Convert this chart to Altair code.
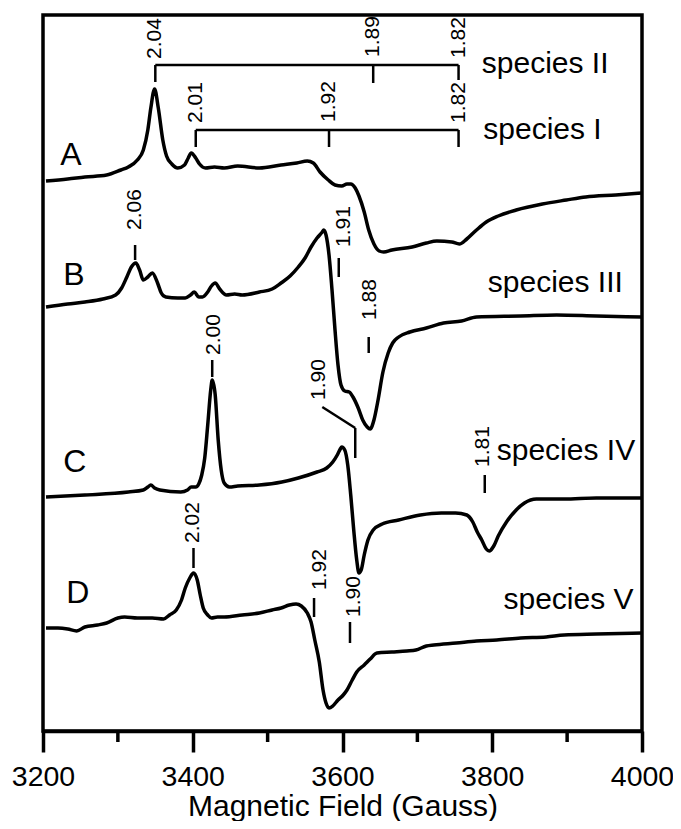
import altair as alt
import pandas as pd

FONT = "Liberation Sans"

# ---- spectra (field in Gauss, signal in arbitrary units relative to each trace baseline)
FIELD_A = [3204,3233,3256,3285,3304,3314,3326,3334,3340,3344,3349,3354,3360,3365,3372,3380,3389,3394,3398,3404,
           3409,3417,3429,3442,3460,3489,3518,3539,3553,3561,3570,3581,3590,3599,3606,3611,3617,3622,3629,3635,
           3642,3649,3655,3666,3693,3712,3726,3746,3756,3766,3779,3792,3808,3832,3867,3899,3925,3965,4000]
SIGNAL_A = [0,2,4,6,11,14,21,31,51,73,92,73,41,25,17,13,16,23,28,23,
            17,13,14,13,15,13,16,18,20,18,9,1,-4,-5,-3,-3,-7,-15,-31,-49,
            -63,-70,-71,-69,-66,-62,-60,-61,-63,-58,-49,-41,-35,-29,-23,-19,-16,-14,-12]

FIELD_B = [3204,3233,3256,3280,3297,3305,3312,3318,3324,3329,3334,3340,3346,3353,3358,3364,3380,3390,3397,3402,
           3408,3413,3420,3425,3430,3436,3445,3456,3466,3489,3506,3518,3530,3541,3550,3558,3566,3573,3575,3578,
           3582,3586,3590,3594,3598,3603,3609,3614,3621,3627,3633,3637,3642,3647,3654,3661,3667,3675,3690,3712,
           3735,3759,3779,3838,3886,3939,4000]
SIGNAL_B = [0,3,5,8,12,19,30,40,44,37,27,30,34,24,14,10,9,9,12,15,
            10,10,15,21,24,18,12,13,12,15,18,24,31,40,49,60,69,75,77,72,
            52,17,-23,-58,-78,-84,-85,-90,-101,-113,-120,-122,-113,-95,-65,-46,-36,-30,-25,-21,
            -16,-14,-10,-9,-8,-9,-10]

FIELD_C = [3204,3256,3314,3334,3340,3344,3349,3356,3384,3393,3398,3404,3408,3412,3416,3420,3424,3426,3430,3434,
           3438,3442,3449,3460,3489,3519,3541,3566,3579,3587,3593,3597,3599,3603,3607,3611,3615,3619,3622,3625,
           3629,3634,3641,3653,3675,3704,3732,3751,3766,3774,3780,3786,3792,3796,3802,3808,3819,3832,3843,3859,
           3896,3939,4000]
SIGNAL_C = [0,2,5,7,10,12,9,7,5,7,10,10,13,22,39,72,107,117,102,57,
            27,14,10,11,12,15,19,25,29,35,42,48,50,47,32,2,-33,-63,-76,-73,
            -58,-43,-33,-27,-23,-18,-16,-16,-18,-25,-35,-43,-52,-54,-49,-39,-25,-13,-6,-2,
            -2,-1,-1]

FIELD_D = [3204,3220,3233,3245,3256,3273,3285,3300,3309,3326,3346,3361,3369,3378,3385,3390,3396,3401,3406,3410,
           3414,3420,3425,3433,3442,3466,3489,3506,3518,3529,3538,3545,3553,3558,3563,3569,3574,3578,3582,3587,
           3594,3601,3606,3613,3619,3629,3637,3646,3666,3686,3698,3712,3722,3752,3779,3806,3838,3872,3896,3939,
           4000]
SIGNAL_D = [0,0,-1,-3,1,3,5,10,11,10,10,9,13,18,28,40,50,55,48,33,
            20,13,10,11,11,13,15,18,20,23,24,22,15,6,-12,-34,-62,-75,-80,-78,
            -72,-67,-62,-52,-44,-37,-31,-25,-24,-23,-22,-18,-17,-15,-13,-12,-10,-9,-7,-6,
            -5]

TRACE_NAMES = ["A", "B", "C", "D"]
TRACE_OFFSETS = [550, 424, 234, 103]

# ---- trace letters
LETTER_FIELD = [3223, 3227, 3227, 3231]
LETTER_LEVEL = [566, 446, 259, 128]

# ---- species labels
SPECIES_TEXT = ["species II", "species I", "species III", "species IV", "species V"]
SPECIES_FIELD = [3786, 3788, 3794, 3806, 3815]
SPECIES_LEVEL = [658, 592, 439, 271, 122]

# ---- g-value labels (rotated)
G_TEXT = ["2.04", "1.89", "1.82", "2.01", "1.92", "1.82", "2.06", "1.91", "1.88",
          "2.00", "1.90", "1.81", "2.02", "1.92", "1.90"]
G_FIELD = [3350, 3641, 3755, 3404, 3582, 3755, 3323, 3602, 3637,
           3429, 3569, 3788, 3401, 3570, 3615]
G_LEVEL = [672, 674, 673, 608, 609, 608, 501, 484, 411,
           376, 331, 264, 188, 141, 114]

# ---- marker segments (field start, field end, level start, level end)
SEG_X1 = [3350, 3350, 3641, 3755, 3404, 3404, 3582, 3755, 3323, 3595, 3635, 3426, 3573, 3617, 3790, 3401, 3562, 3610]
SEG_X2 = [3755, 3350, 3641, 3755, 3755, 3404, 3582, 3755, 3323, 3595, 3635, 3426, 3617, 3617, 3790, 3401, 3562, 3610]
SEG_Y1 = [666, 666, 666, 666, 601, 601, 601, 601, 486, 473, 394, 371, 324, 303, 256, 183, 133, 109]
SEG_Y2 = [666, 649, 648, 651, 601, 584, 584, 584, 471, 454, 378, 354, 303, 273, 238, 163, 114, 88]

MAJOR_TICKS = [3200, 3400, 3600, 3800, 4000]
MINOR_TICKS = [3300, 3500, 3700, 3900]

# ---- build tables
fields = [FIELD_A, FIELD_B, FIELD_C, FIELD_D]
signals = [SIGNAL_A, SIGNAL_B, SIGNAL_C, SIGNAL_D]
rows = []
for name, off, f, s in zip(TRACE_NAMES, TRACE_OFFSETS, fields, signals):
    for i, (fx, sy) in enumerate(zip(f, s)):
        rows.append({"trace": name, "order": i, "field": fx, "value": off + sy})
traces = pd.DataFrame(rows)

letters = pd.DataFrame({"text": TRACE_NAMES, "field": LETTER_FIELD, "value": LETTER_LEVEL})
species = pd.DataFrame({"text": SPECIES_TEXT, "field": SPECIES_FIELD, "value": SPECIES_LEVEL})
glabels = pd.DataFrame({"text": G_TEXT, "field": G_FIELD, "value": G_LEVEL})
segs = pd.DataFrame({"x1": SEG_X1, "x2": SEG_X2, "y1": SEG_Y1, "y2": SEG_Y2})
minor = pd.DataFrame({"field": MINOR_TICKS})

xscale = alt.Scale(domain=[3200, 4000], nice=False)
yscale = alt.Scale(domain=[0, 716], nice=False)

xaxis = alt.Axis(values=MAJOR_TICKS, format="d", tickSize=21, tickWidth=3.5, tickColor="black",
                 domainColor="black", domainWidth=3.5, grid=False,
                 labelFont=FONT, labelFontSize=28.5, labelColor="black", labelPadding=10,
                 labelFlush=False, labelOverlap=False,
                 title="Magnetic Field (Gauss)", titleFont=FONT, titleFontSize=30,
                 titleFontWeight="normal", titleColor="black",
                 titleBaseline="alphabetic", titleY=84)

lines = alt.Chart(traces).mark_line(color="black", strokeWidth=3.5, interpolate="monotone").encode(
    x=alt.X("field:Q", scale=xscale, axis=xaxis),
    y=alt.Y("value:Q", scale=yscale, axis=None),
    detail="trace:N",
    order="order:Q",
)

seg_layer = alt.Chart(segs).mark_rule(color="black", strokeWidth=2.5).encode(
    x=alt.X("x1:Q", scale=xscale),
    x2="x2:Q",
    y=alt.Y("y1:Q", scale=yscale),
    y2="y2:Q",
)

minor_layer = alt.Chart(minor).mark_rule(color="black", strokeWidth=3.5).encode(
    x=alt.X("field:Q", scale=xscale),
    y=alt.value(716),
    y2=alt.value(727),
)

g_layer = alt.Chart(glabels).mark_text(angle=270, align="left", baseline="middle",
                                       font=FONT, fontSize=21, color="black").encode(
    x=alt.X("field:Q", scale=xscale),
    y=alt.Y("value:Q", scale=yscale),
    text="text:N",
)

letter_layer = alt.Chart(letters).mark_text(align="left", baseline="alphabetic",
                                            font=FONT, fontSize=32, color="black").encode(
    x=alt.X("field:Q", scale=xscale),
    y=alt.Y("value:Q", scale=yscale),
    text="text:N",
)

species_layer = alt.Chart(species).mark_text(align="left", baseline="alphabetic",
                                             font=FONT, fontSize=30, color="black").encode(
    x=alt.X("field:Q", scale=xscale),
    y=alt.Y("value:Q", scale=yscale),
    text="text:N",
)

chart = alt.layer(lines, seg_layer, minor_layer, g_layer, letter_layer, species_layer).properties(
    width=599, height=716,
    autosize=alt.AutoSizeParams(type="none"),
    padding={"left": 35, "top": 7, "right": 31, "bottom": 90},
    background="white",
).configure_view(stroke="black", strokeWidth=3.5)

chart.save("out.html", embed_options={"renderer": "svg", "actions": False})
